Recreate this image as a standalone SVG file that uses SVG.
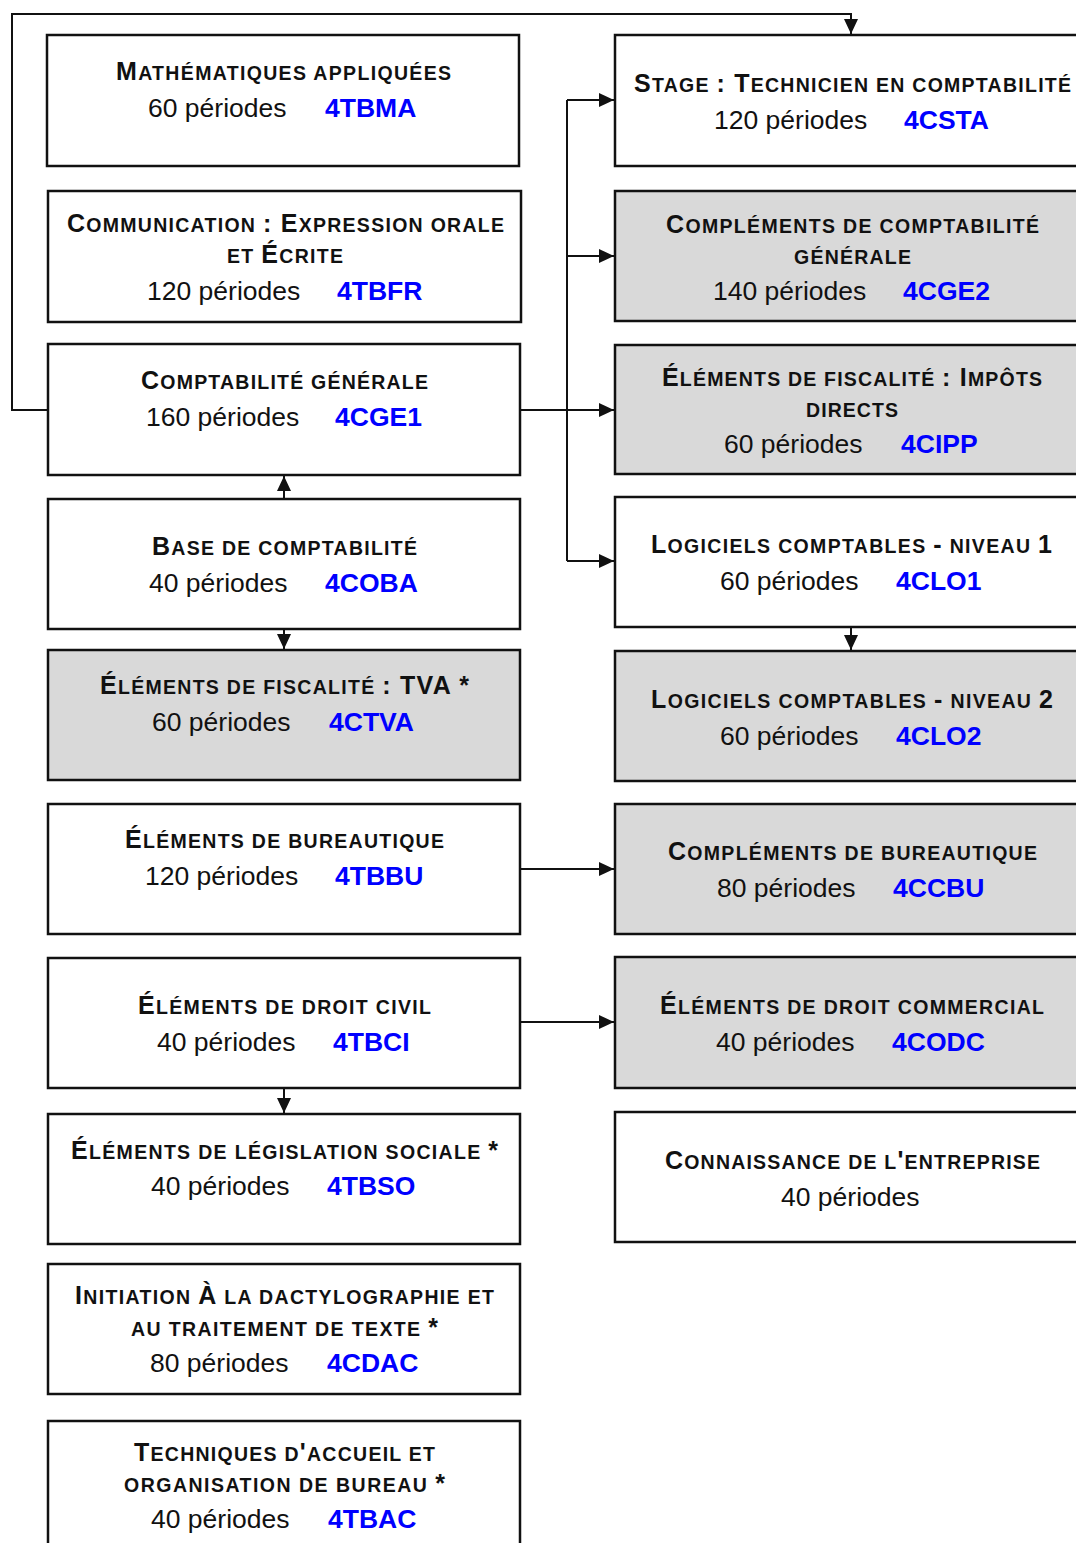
<svg xmlns="http://www.w3.org/2000/svg" width="1076" height="1543" viewBox="0 0 1076 1543">
<style>
.box{stroke:#111;stroke-width:2.5;fill:#fff}
.g{fill:#d9d9d9}
.t{font-family:"Liberation Sans",Arial,sans-serif;font-weight:bold;font-size:19.5px;fill:#111}
.k{font-size:25px}
.p{font-family:"Liberation Sans",Arial,sans-serif;font-size:26.5px;fill:#111}
.c{font-family:"Liberation Sans",Arial,sans-serif;font-weight:bold;font-size:26.5px;fill:#0000ff}
.ln{fill:none;stroke:#111;stroke-width:2}
</style>
<defs>
<marker id="ah" markerUnits="userSpaceOnUse" markerWidth="16" markerHeight="14" refX="15" refY="7" orient="auto">
<path d="M0,0 L15,7 L0,14 z" fill="#111"/>
</marker>
</defs>
<rect width="1076" height="1543" fill="#fff"/>

<g id="connectors">
<path class="ln" d="M48,410 H12 V14 H851 V34" marker-end="url(#ah)"/>
<path class="ln" d="M520,410 H614" marker-end="url(#ah)"/>
<path class="ln" d="M567,100 V561"/>
<path class="ln" d="M567,100 H614" marker-end="url(#ah)"/>
<path class="ln" d="M567,256 H614" marker-end="url(#ah)"/>
<path class="ln" d="M567,561 H614" marker-end="url(#ah)"/>
<path class="ln" d="M284,499 V476" marker-end="url(#ah)"/>
<path class="ln" d="M284,629 V649" marker-end="url(#ah)"/>
<path class="ln" d="M851,627 V650" marker-end="url(#ah)"/>
<path class="ln" d="M520,869 H614" marker-end="url(#ah)"/>
<path class="ln" d="M520,1022 H614" marker-end="url(#ah)"/>
<path class="ln" d="M284,1088 V1113" marker-end="url(#ah)"/>
</g>

<g id="n4TBMA">
<rect class="box" x="47" y="35" width="472" height="131"/>
<text class="t" x="116" y="80" textLength="335"><tspan class="k">M</tspan>ATHÉMATIQUES APPLIQUÉES</text>
<text y="117"><tspan class="p" x="148">60 périodes</tspan><tspan class="c" x="325">4TBMA</tspan></text>
</g>

<g id="n4TBFR">
<rect class="box" x="48" y="191" width="473" height="131"/>
<text class="t" x="67" y="232" textLength="437"><tspan class="k">C</tspan>OMMUNICATION <tspan class="k">: E</tspan>XPRESSION ORALE</text>
<text class="t" x="227" y="263" textLength="116">ET <tspan class="k">É</tspan>CRITE</text>
<text y="300"><tspan class="p" x="147">120 périodes</tspan><tspan class="c" x="337">4TBFR</tspan></text>
</g>

<g id="n4CGE1">
<rect class="box" x="48" y="344" width="472" height="131"/>
<text class="t" x="141" y="389" textLength="287"><tspan class="k">C</tspan>OMPTABILITÉ GÉNÉRALE</text>
<text y="426"><tspan class="p" x="146">160 périodes</tspan><tspan class="c" x="335">4CGE1</tspan></text>
</g>

<g id="n4COBA">
<rect class="box" x="48" y="499" width="472" height="130"/>
<text class="t" x="152" y="555" textLength="265"><tspan class="k">B</tspan>ASE DE COMPTABILITÉ</text>
<text y="592"><tspan class="p" x="149">40 périodes</tspan><tspan class="c" x="325">4COBA</tspan></text>
</g>

<g id="n4CTVA">
<rect class="box g" x="48" y="650" width="472" height="130"/>
<text class="t" x="100" y="694" textLength="369"><tspan class="k">É</tspan>LÉMENTS DE FISCALITÉ <tspan class="k">: TVA *</tspan></text>
<text y="731"><tspan class="p" x="152">60 périodes</tspan><tspan class="c" x="329">4CTVA</tspan></text>
</g>

<g id="n4TBBU">
<rect class="box" x="48" y="804" width="472" height="130"/>
<text class="t" x="125" y="848" textLength="319"><tspan class="k">É</tspan>LÉMENTS DE BUREAUTIQUE</text>
<text y="885"><tspan class="p" x="145">120 périodes</tspan><tspan class="c" x="335">4TBBU</tspan></text>
</g>

<g id="n4TBCI">
<rect class="box" x="48" y="958" width="472" height="130"/>
<text class="t" x="138" y="1014" textLength="293"><tspan class="k">É</tspan>LÉMENTS DE DROIT CIVIL</text>
<text y="1051"><tspan class="p" x="157">40 périodes</tspan><tspan class="c" x="333">4TBCI</tspan></text>
</g>

<g id="n4TBSO">
<rect class="box" x="48" y="1114" width="472" height="130"/>
<text class="t" x="71" y="1159" textLength="427"><tspan class="k">É</tspan>LÉMENTS DE LÉGISLATION SOCIALE <tspan class="k">*</tspan></text>
<text y="1195"><tspan class="p" x="151">40 périodes</tspan><tspan class="c" x="327">4TBSO</tspan></text>
</g>

<g id="n4CDAC">
<rect class="box" x="48" y="1264" width="472" height="130"/>
<text class="t" x="75" y="1304" textLength="419"><tspan class="k">I</tspan>NITIATION <tspan class="k">À</tspan> LA DACTYLOGRAPHIE ET</text>
<text class="t" x="131" y="1336" textLength="307">AU TRAITEMENT DE TEXTE <tspan class="k">*</tspan></text>
<text y="1372"><tspan class="p" x="150">80 périodes</tspan><tspan class="c" x="327">4CDAC</tspan></text>
</g>

<g id="n4TBAC">
<rect class="box" x="48" y="1421" width="472" height="140"/>
<text class="t" x="134" y="1461" textLength="301"><tspan class="k">T</tspan>ECHNIQUES D<tspan class="k">'</tspan>ACCUEIL ET</text>
<text class="t" x="124" y="1492" textLength="321">ORGANISATION DE BUREAU <tspan class="k">*</tspan></text>
<text y="1528"><tspan class="p" x="151">40 périodes</tspan><tspan class="c" x="328">4TBAC</tspan></text>
</g>

<g id="n4CSTA">
<rect class="box" x="615" y="35" width="480" height="131"/>
<text class="t" x="634" y="92" textLength="437"><tspan class="k">S</tspan>TAGE <tspan class="k">: T</tspan>ECHNICIEN EN COMPTABILITÉ</text>
<text y="129"><tspan class="p" x="714">120 périodes</tspan><tspan class="c" x="904">4CSTA</tspan></text>
</g>

<g id="n4CGE2">
<rect class="box g" x="615" y="191" width="480" height="130"/>
<text class="t" x="666" y="233" textLength="373"><tspan class="k">C</tspan>OMPLÉMENTS DE COMPTABILITÉ</text>
<text class="t" x="794" y="264" textLength="117">GÉNÉRALE</text>
<text y="300"><tspan class="p" x="713">140 périodes</tspan><tspan class="c" x="903">4CGE2</tspan></text>
</g>

<g id="n4CIPP">
<rect class="box g" x="615" y="345" width="480" height="129"/>
<text class="t" x="662" y="386" textLength="380"><tspan class="k">É</tspan>LÉMENTS DE FISCALITÉ <tspan class="k">: I</tspan>MPÔTS</text>
<text class="t" x="806" y="417" textLength="92">DIRECTS</text>
<text y="453"><tspan class="p" x="724">60 périodes</tspan><tspan class="c" x="901">4CIPP</tspan></text>
</g>

<g id="n4CLO1">
<rect class="box" x="615" y="497" width="480" height="130"/>
<text class="t" x="651" y="553" textLength="401"><tspan class="k">L</tspan>OGICIELS COMPTABLES <tspan class="k">-</tspan> NIVEAU <tspan class="k">1</tspan></text>
<text y="590"><tspan class="p" x="720">60 périodes</tspan><tspan class="c" x="896">4CLO1</tspan></text>
</g>

<g id="n4CLO2">
<rect class="box g" x="615" y="651" width="480" height="130"/>
<text class="t" x="651" y="708" textLength="402"><tspan class="k">L</tspan>OGICIELS COMPTABLES <tspan class="k">-</tspan> NIVEAU <tspan class="k">2</tspan></text>
<text y="745"><tspan class="p" x="720">60 périodes</tspan><tspan class="c" x="896">4CLO2</tspan></text>
</g>

<g id="n4CCBU">
<rect class="box g" x="615" y="804" width="480" height="130"/>
<text class="t" x="668" y="860" textLength="369"><tspan class="k">C</tspan>OMPLÉMENTS DE BUREAUTIQUE</text>
<text y="897"><tspan class="p" x="717">80 périodes</tspan><tspan class="c" x="893">4CCBU</tspan></text>
</g>

<g id="n4CODC">
<rect class="box g" x="615" y="957" width="480" height="131"/>
<text class="t" x="660" y="1014" textLength="384"><tspan class="k">É</tspan>LÉMENTS DE DROIT COMMERCIAL</text>
<text y="1051"><tspan class="p" x="716">40 périodes</tspan><tspan class="c" x="892">4CODC</tspan></text>
</g>

<g id="nConnaissance">
<rect class="box" x="615" y="1112" width="480" height="130"/>
<text class="t" x="665" y="1169" textLength="375"><tspan class="k">C</tspan>ONNAISSANCE DE L<tspan class="k">'</tspan>ENTREPRISE</text>
<text class="p" x="781" y="1206">40 périodes</text>
</g>
</svg>
